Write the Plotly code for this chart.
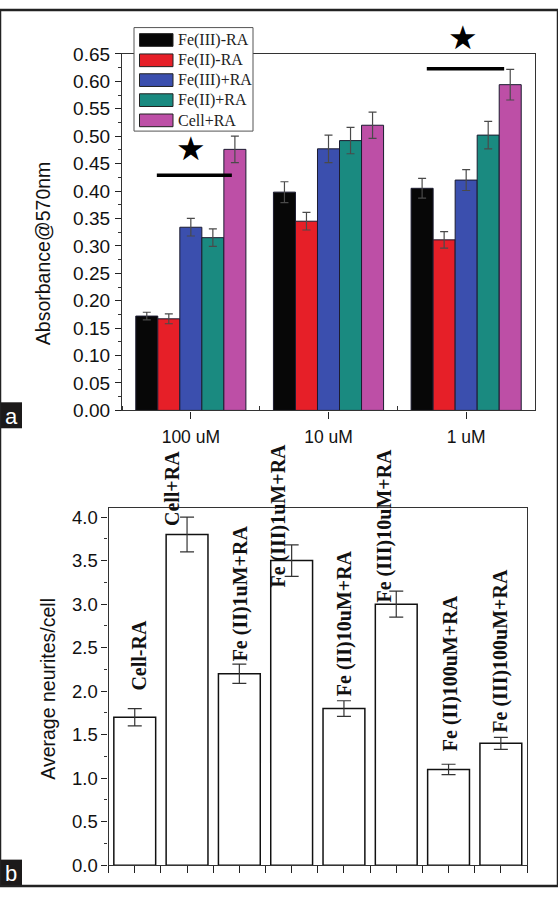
import plotly.graph_objects as go

W, H = 558, 897

# ---------------- data: panel a ----------------
conc = ["100 uM", "10 uM", "1 uM"]
series_names = ["Fe(III)-RA", "Fe(II)-RA", "Fe(III)+RA", "Fe(II)+RA", "Cell+RA"]
fe3_minus_ra = [0.172, 0.398, 0.405]
fe3_minus_ra_err = [0.007, 0.019, 0.018]
fe2_minus_ra = [0.167, 0.345, 0.311]
fe2_minus_ra_err = [0.009, 0.016, 0.015]
fe3_plus_ra = [0.334, 0.477, 0.420]
fe3_plus_ra_err = [0.016, 0.025, 0.019]
fe2_plus_ra = [0.315, 0.492, 0.502]
fe2_plus_ra_err = [0.016, 0.024, 0.025]
cell_plus_ra = [0.476, 0.520, 0.594]
cell_plus_ra_err = [0.024, 0.024, 0.028]
a_yticks = [0.00, 0.05, 0.10, 0.15, 0.20, 0.25, 0.30, 0.35, 0.40, 0.45, 0.50, 0.55, 0.60, 0.65]

# ---------------- data: panel b ----------------
b_labels = ["Cell-RA", "Cell+RA", "Fe (II)1uM+RA", "Fe (III)1uM+RA",
            "Fe (II)10uM+RA", "Fe (III)10uM+RA", "Fe (II)100uM+RA", "Fe (III)100uM+RA"]
b_values = [1.7, 3.8, 2.2, 3.5, 1.8, 3.0, 1.1, 1.4]
b_errors = [0.10, 0.20, 0.11, 0.18, 0.09, 0.15, 0.06, 0.07]
b_yticks = [0.0, 0.5, 1.0, 1.5, 2.0, 2.5, 3.0, 3.5, 4.0]

# ---------------- styling ----------------
colors = ["#070707", "#e61f28", "#3b4fae", "#1a8a80", "#bd4fa6"]
a_series = [fe3_minus_ra, fe2_minus_ra, fe3_plus_ra, fe2_plus_ra, cell_plus_ra]
a_errs = [fe3_minus_ra_err, fe2_minus_ra_err, fe3_plus_ra_err, fe2_plus_ra_err, cell_plus_ra_err]

A_YMAX = 0.65
A_TOP_PX, A_BOT_PX = 45, 410

def PX(x):
    return x / W

def PY(y):
    return 1 - y / H

def a_val_to_paper(v):
    return PY(A_BOT_PX - v / A_YMAX * (A_BOT_PX - A_TOP_PX))

fig = go.Figure()

a_x = list(range(len(conc)))
for name, vals, errs, col in zip(series_names, a_series, a_errs, colors):
    fig.add_trace(go.Bar(
        x=a_x, y=vals, name=name, marker=dict(color=col, line=dict(color="#1c1c30", width=1)),
        error_y=dict(type="data", array=errs, visible=True, color="#4a4a4a", thickness=1.2, width=4),
        xaxis="x", yaxis="y", showlegend=False,
    ))

b_x = list(range(len(b_labels)))
fig.add_trace(go.Bar(
    x=b_x, y=b_values, marker=dict(color="white", line=dict(color="#111111", width=1.5)),
    error_y=dict(type="data", array=b_errors, visible=True, color="#333333", thickness=1.2, width=7),
    xaxis="x2", yaxis="y2", showlegend=False,
))

shapes = []
annotations = []

# significance lines and stars
for x0, x1, y in [(-0.247, 0.298, 0.429), (1.714, 2.276, 0.623)]:
    shapes.append(dict(type="line", xref="x", yref="y", x0=x0, x1=x1, y0=y, y1=y,
                       line=dict(color="black", width=3.5)))
for sx, sy in [(0.0, 0.478), (1.98, 0.680)]:
    annotations.append(dict(text="★", xref="x", yref="paper", x=sx, y=a_val_to_paper(sy),
                            xanchor="center", yanchor="middle", showarrow=False,
                            font=dict(family="DejaVu Sans", size=33, color="black")))

# custom legend (panel a)
shapes.append(dict(type="rect", xref="paper", yref="paper",
                   x0=PX(134), x1=PX(253), y0=PY(124), y1=PY(18),
                   line=dict(color="#555555", width=1), fillcolor="white", layer="above"))
leg_centers = [30.7, 51.5, 71.8, 92.3, 113.0]
for name, col, cy in zip(series_names, colors, leg_centers):
    shapes.append(dict(type="rect", xref="paper", yref="paper",
                       x0=PX(139.5), x1=PX(173), y0=PY(cy + 6.5), y1=PY(cy - 6.5),
                       line=dict(color="#222222", width=1), fillcolor=col, layer="above"))
    annotations.append(dict(text=name, xref="paper", yref="paper", x=PX(175.5), y=PY(cy),
                            xanchor="left", yanchor="middle", showarrow=False,
                            font=dict(family="Liberation Serif", size=16, color="#222222")))

# panel b bar labels (rotated)
label_x = [0.08, 0.71, 2.03, 2.74, 4.0, 4.77, 6.03, 7.0]
label_base = [2.0, 3.89, 2.33, 3.18, 1.93, 3.01, 1.30, 1.51]
for t, lx, ly in zip(b_labels, label_x, label_base):
    annotations.append(dict(text="<b>%s</b>" % t, xref="x2", yref="y2", x=lx, y=ly,
                            xanchor="center", yanchor="bottom", textangle=-90, showarrow=False,
                            borderpad=0,
                            font=dict(family="Liberation Serif", size=20, color="#111111")))

# axis titles
annotations.append(dict(text="Absorbance@570nm", xref="paper", yref="paper", x=PX(43), y=PY(249),
                        xanchor="center", yanchor="middle", textangle=-90, showarrow=False,
                        font=dict(family="Liberation Sans", size=19.5, color="#111111")))
annotations.append(dict(text="Average neurites/cell", xref="paper", yref="paper", x=PX(48), y=PY(695),
                        xanchor="center", yanchor="middle", textangle=-90, showarrow=False,
                        font=dict(family="Liberation Sans", size=19.5, color="#111111")))

# panel letters
for letter, y0, y1 in [("a", 401.7, 428.3), ("b", 870, 897)]:
    shapes.append(dict(type="rect", xref="paper", yref="paper", x0=0, x1=PX(22), y0=PY(y1), y1=PY(y0),
                       line=dict(width=0), fillcolor="#1c1a1a", layer="above"))
    annotations.append(dict(text=letter, xref="paper", yref="paper", x=PX(11), y=PY((y0 + y1) / 2 + 1),
                            xanchor="center", yanchor="middle", showarrow=False,
                            font=dict(family="Liberation Sans", size=22, color="white")))

# outer frame
shapes.append(dict(type="rect", xref="paper", yref="paper", x0=0, x1=1, y0=0, y1=1,
                   line=dict(color="#222222", width=2.5), layer="above"))

fig.update_layout(
    width=W, height=H, margin=dict(l=0, r=0, t=0, b=0),
    paper_bgcolor="white", plot_bgcolor="white",
    barmode="group", bargap=0.2, bargroupgap=0,
    shapes=shapes, annotations=annotations,
    xaxis=dict(domain=[PX(122), PX(535)], anchor="y", range=[-0.5, 2.5],
               tickvals=a_x, ticktext=conc, ticks="outside", ticklen=7, tickcolor="#222",
               showline=True, mirror=True, linecolor="#333", linewidth=1.2, showgrid=False,
               zeroline=False, tickfont=dict(family="Liberation Sans", size=17.5, color="#111111"),
               ticklabelstandoff=3,
               minor=dict(tick0=0.5, dtick=1, ticks="inside", ticklen=4, tickcolor="#333")),
    yaxis=dict(domain=[PY(A_BOT_PX), PY(A_TOP_PX)], anchor="x", range=[0, A_YMAX],
               tickvals=a_yticks, ticktext=["%.2f" % v for v in a_yticks],
               ticks="outside", ticklen=6, tickcolor="#222",
               showline=True, mirror=True, linecolor="#333", linewidth=1.2, showgrid=False,
               zeroline=False, tickfont=dict(family="Liberation Sans", size=19, color="#111111"),
               ticklabelstandoff=1,
               minor=dict(dtick=0.025, tick0=0, ticks="outside", ticklen=3, tickcolor="#333")),
    xaxis2=dict(domain=[PX(108.6), PX(527)], anchor="y2", range=[-0.5, 7.5],
                tickvals=b_x, ticktext=[""] * len(b_x), ticks="outside", ticklen=7, tickcolor="#222",
                tickwidth=1.3,
                showline=True, mirror=True, linecolor="#333", linewidth=1.3, showgrid=False,
                zeroline=False,
                minor=dict(tick0=0.5, dtick=1, ticks="outside", ticklen=7, tickcolor="#222", tickwidth=1.3)),
    yaxis2=dict(domain=[PY(875.7), PY(510)], anchor="x2", range=[0, 4.104],
                tickvals=b_yticks, ticktext=["%.1f" % v for v in b_yticks],
                ticks="outside", ticklen=6, tickcolor="#222",
                showline=True, mirror=True, linecolor="#333", linewidth=1.3, showgrid=False,
                zeroline=False, tickfont=dict(family="Liberation Sans", size=18.5, color="#111111"),
                ticklabelstandoff=0,
                minor=dict(dtick=0.25, tick0=0, ticks="outside", ticklen=3, tickcolor="#333")),
)

fig.write_html("out.html", config={"displayModeBar": False},
               post_script="document.body.style.margin='0';document.body.style.overflow='hidden';")
